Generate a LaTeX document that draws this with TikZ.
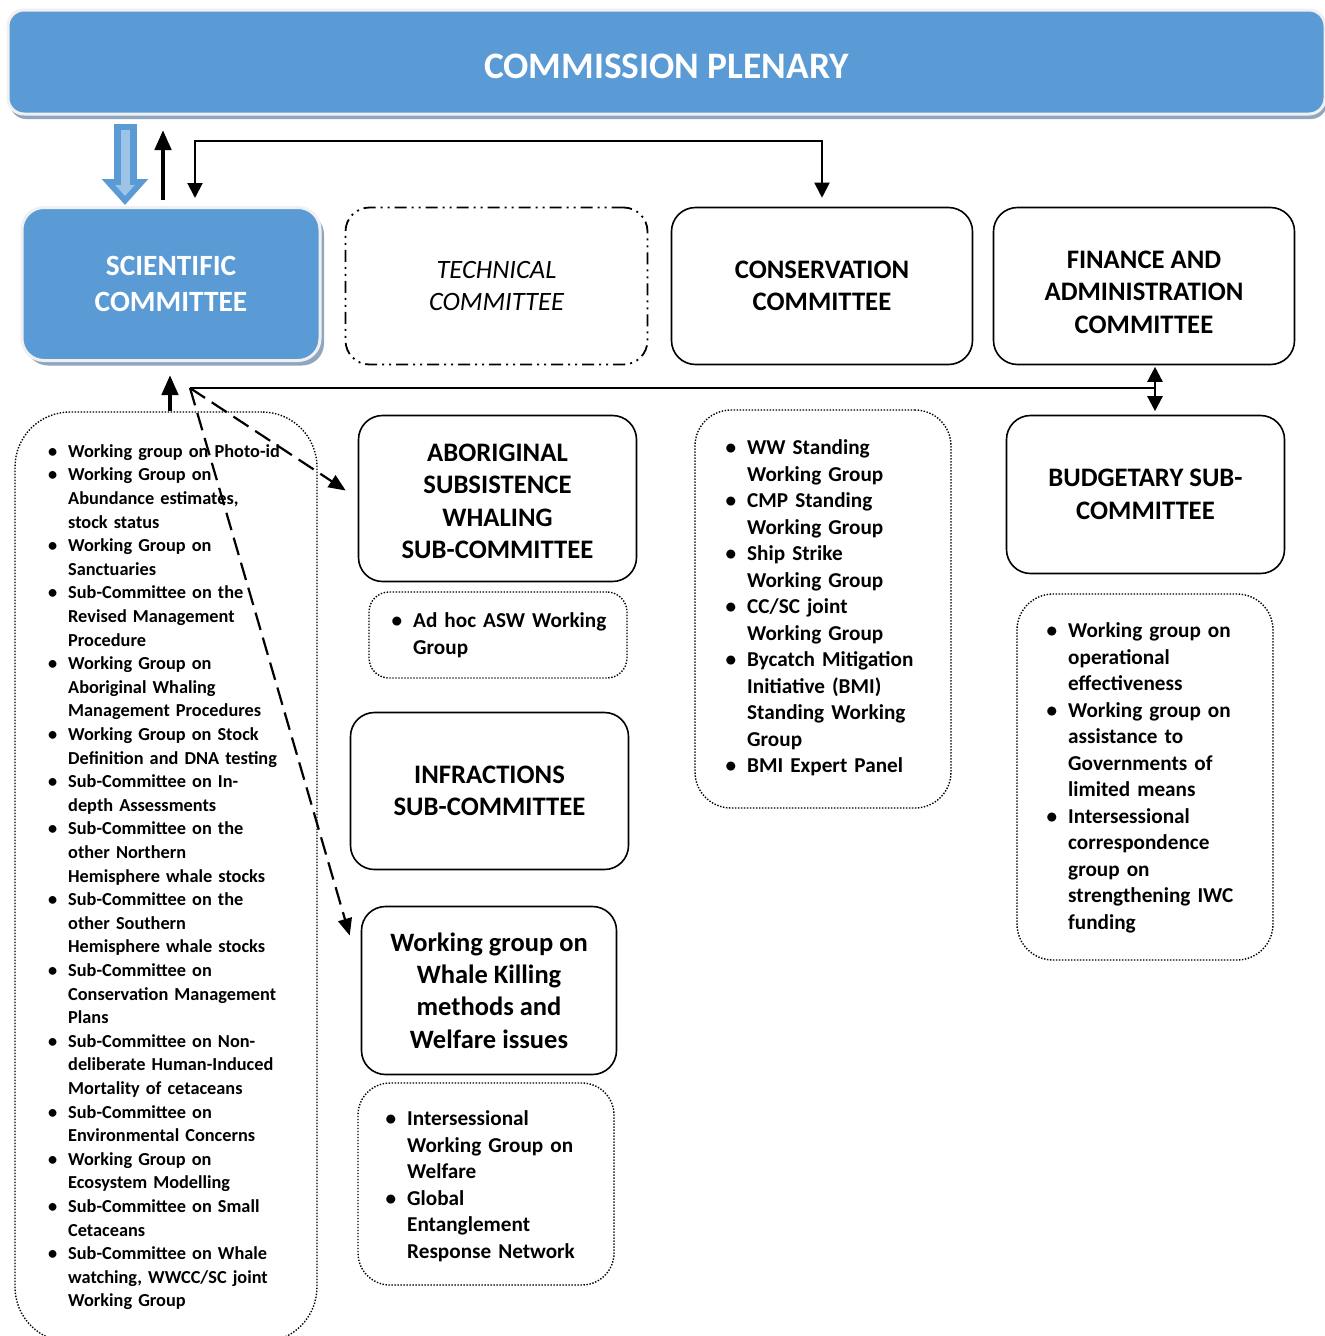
\documentclass[tikz,border=0pt]{standalone}
\usepackage{fontspec}
\setmainfont{Carlito}
\usepackage{enumitem}
\usetikzlibrary{arrows.meta}
\usetikzlibrary{shadows}

\definecolor{plenblue}{RGB}{91,155,213}
\definecolor{paleblue}{RGB}{157,195,230}
\definecolor{rimgrey}{RGB}{240,240,240}
\definecolor{shadeblue}{RGB}{143,166,190}

\setlist[itemize]{label=\textbullet,leftmargin=16pt,labelsep=11pt,
  itemsep=0pt,parsep=0pt,topsep=0pt,partopsep=0pt}

\begin{document}
\begin{tikzpicture}[x=1pt,y=-1pt,
    bluebox/.style={draw=rimgrey,line width=3pt,fill=plenblue,text=white,align=center,
      drop shadow={shadow xshift=#1,shadow yshift=-5pt,fill=shadeblue,opacity=1}},
    bluebox/.default=4pt,
    cbox/.style={draw,line width=1.6pt,rounded corners=24pt,align=center,
      font=\bfseries\fontsize{26.7}{32.5}\selectfont},
    dotbox/.style={draw,line width=1.4pt,dash pattern=on 1.4pt off 1.6pt,rounded corners=#1},
    dotbox/.default=36pt,
    items/.style={anchor=north west,inner sep=0pt,text width=#1,align=left},
    listsmall/.style={font=\bfseries\fontsize{18.3}{23.6}\selectfont},
    listbig/.style={font=\bfseries\fontsize{21.2}{26.5}\selectfont},
    link/.style={line width=2pt,{Triangle[length=15pt,width=15pt]}-{Triangle[length=15pt,width=15pt]}},
    uplink/.style={line width=4.5pt,-{Triangle[length=20pt,width=16pt]}},
    dashlink/.style={line width=2.2pt,dash pattern=on 18pt off 8pt,-{Triangle[length=17pt,width=14pt]}}
  ]
  \useasboundingbox (0,0) rectangle (1325,1336);
  % Plenary and the committees.
  \node[bluebox=2pt,minimum width=1317pt,minimum height=104pt,rounded corners=16pt,
    font=\bfseries\fontsize{37.4}{45}\selectfont,text height=33.6pt,text depth=0pt]
    (plenary) at (666.5,62) {COMMISSION PLENARY};
  \node[bluebox,minimum width=298pt,minimum height=153pt,rounded corners=22pt,
    font=\bfseries\fontsize{29.4}{36}\selectfont] (sci) at (171,284) {SCIENTIFIC\\COMMITTEE};
  \node[cbox,line width=1.8pt,dash pattern=on 12pt off 5pt on 2pt off 5pt on 2pt off 5pt,
    font=\itshape\fontsize{26.5}{32}\selectfont,minimum width=302pt,minimum height=157pt]
    (tech) at (496.5,286) {TECHNICAL\\COMMITTEE};
  \node[cbox,minimum width=301pt,minimum height=157pt] (cons) at (822,286) {CONSERVATION\\COMMITTEE};
  \node[cbox,minimum width=301pt,minimum height=157pt,text height=95pt] (fin) at (1144,286)
    {FINANCE AND\\ADMINISTRATION\\COMMITTEE};
  % Sub-committees.
  \node[cbox,minimum width=278pt,minimum height=166pt,text height=121pt] (asw) at (497.5,498.5)
    {ABORIGINAL\\SUBSISTENCE\\WHALING\\SUB-COMMITTEE};
  \node[cbox,minimum width=278pt,minimum height=157pt] (infr) at (489.5,791) {INFRACTIONS\\SUB-COMMITTEE};
  \node[cbox,minimum width=255pt,minimum height=168pt,font=\bfseries\fontsize{26.5}{32.3}\selectfont]
    (kill) at (489,990.5) {Working group on\\Whale Killing\\methods and\\Welfare issues};
  \node[cbox,minimum width=278pt,minimum height=158pt] (bud) at (1145.5,494.5) {BUDGETARY SUB-\\COMMITTEE};
  % Dotted lists.
  \node[dotbox=55pt,minimum width=302pt,minimum height=930pt] (scbox) at (166,877) {};
  \node[dotbox=20pt,minimum width=258pt,minimum height=86pt] (adhocbox) at (498,635) {};
  \node[dotbox=32pt,minimum width=256pt,minimum height=202pt] (welfbox) at (486,1184) {};
  \node[dotbox,minimum width=256pt,minimum height=398pt] (consbox) at (823,609) {};
  \node[dotbox,minimum width=256pt,minimum height=366pt] (finbox) at (1145,777) {};
  \node[items=260pt,listsmall] (scitems) at (52,433.5) {\begin{itemize}
    \item Working group on Photo-id
    \item Working Group on\newline Abundance estimates,\newline stock status
    \item Working Group on\newline Sanctuaries
    \item Sub-Committee on the\newline Revised Management\newline Procedure
    \item Working Group on\newline Aboriginal Whaling\newline Management Procedures
    \item Working Group on Stock\newline Definition and DNA testing
    \item Sub-Committee on In-\newline depth Assessments
    \item Sub-Committee on the\newline other Northern\newline Hemisphere whale stocks
    \item Sub-Committee on the\newline other Southern\newline Hemisphere whale stocks
    \item Sub-Committee on\newline Conservation Management\newline Plans
    \item Sub-Committee on Non-\newline deliberate Human-Induced\newline Mortality of cetaceans
    \item Sub-Committee on\newline Environmental Concerns
    \item Working Group on\newline Ecosystem Modelling
    \item Sub-Committee on Small\newline Cetaceans
    \item Sub-Committee on Whale\newline watching, WWCC/SC joint\newline Working Group
  \end{itemize}};
  \node[items=230pt,listbig] (adhocitems) at (397,601) {\begin{itemize}
    \item Ad hoc ASW Working\newline Group
  \end{itemize}};
  \node[items=230pt,listbig] (welfitems) at (391,1099) {\begin{itemize}
    \item Intersessional\newline Working Group on\newline Welfare
    \item Global\newline Entanglement\newline Response Network
  \end{itemize}};
  \node[items=230pt,listbig] (consitems) at (731,428) {\begin{itemize}
    \item WW Standing\newline Working Group
    \item CMP Standing\newline Working Group
    \item Ship Strike\newline Working Group
    \item CC/SC joint\newline Working Group
    \item Bycatch Mitigation\newline Initiative (BMI)\newline Standing Working\newline Group
    \item BMI Expert Panel
  \end{itemize}};
  \node[items=230pt,listbig] (finitems) at (1052,611) {\begin{itemize}
    \item Working group on\newline operational\newline effectiveness
    \item Working group on\newline assistance to\newline Governments of\newline limited means
    \item Intersessional\newline correspondence\newline group on\newline strengthening IWC\newline funding
  \end{itemize}};
  % Arrows below the plenary.
  \coordinate (bluex) at (125,0);
  \coordinate (upx) at (163,0);
  \coordinate (elbx) at (195,0);
  \coordinate (elbtop) at (500,141);
  \draw[line width=23pt,plenblue,-{Triangle[length=26pt,width=45pt]},shorten <=8.5pt,shorten >=1pt]
    (plenary.south -| bluex) -- (sci.north -| bluex);
  \draw[line width=9pt,paleblue,-{Triangle[length=11pt,width=19pt]},shorten <=14.5pt,shorten >=10pt]
    (plenary.south -| bluex) -- (sci.north -| bluex);
  \draw[uplink,shorten <=6pt,shorten >=14.5pt] (sci.north -| upx) -- (plenary.south -| upx);
  \draw[link,shorten <=8pt,shorten >=9pt] (sci.north -| elbx) |- (elbtop) -| (cons.north);
  % Arrows below the committees.
  \coordinate (hub) at (190,388);
  \coordinate (risex) at (170,0);
  \coordinate (dblx) at (1155,0);
  \draw[uplink,shorten >=13pt] (scbox.north -| risex) -- (sci.south -| risex);
  \draw[line width=2.4pt] (hub) -- (hub -| dblx);
  \draw[link,line width=2.4pt,shorten <=1.5pt,shorten >=3.5pt] (fin.south -| dblx) -- (bud.north -| dblx);
  \draw[dashlink] (hub) -- ([xshift=-12pt,yshift=8pt]asw.west);
  \draw[dashlink] (hub) -- ([xshift=-11pt,yshift=55pt]kill.west);
\end{tikzpicture}
\end{document}
